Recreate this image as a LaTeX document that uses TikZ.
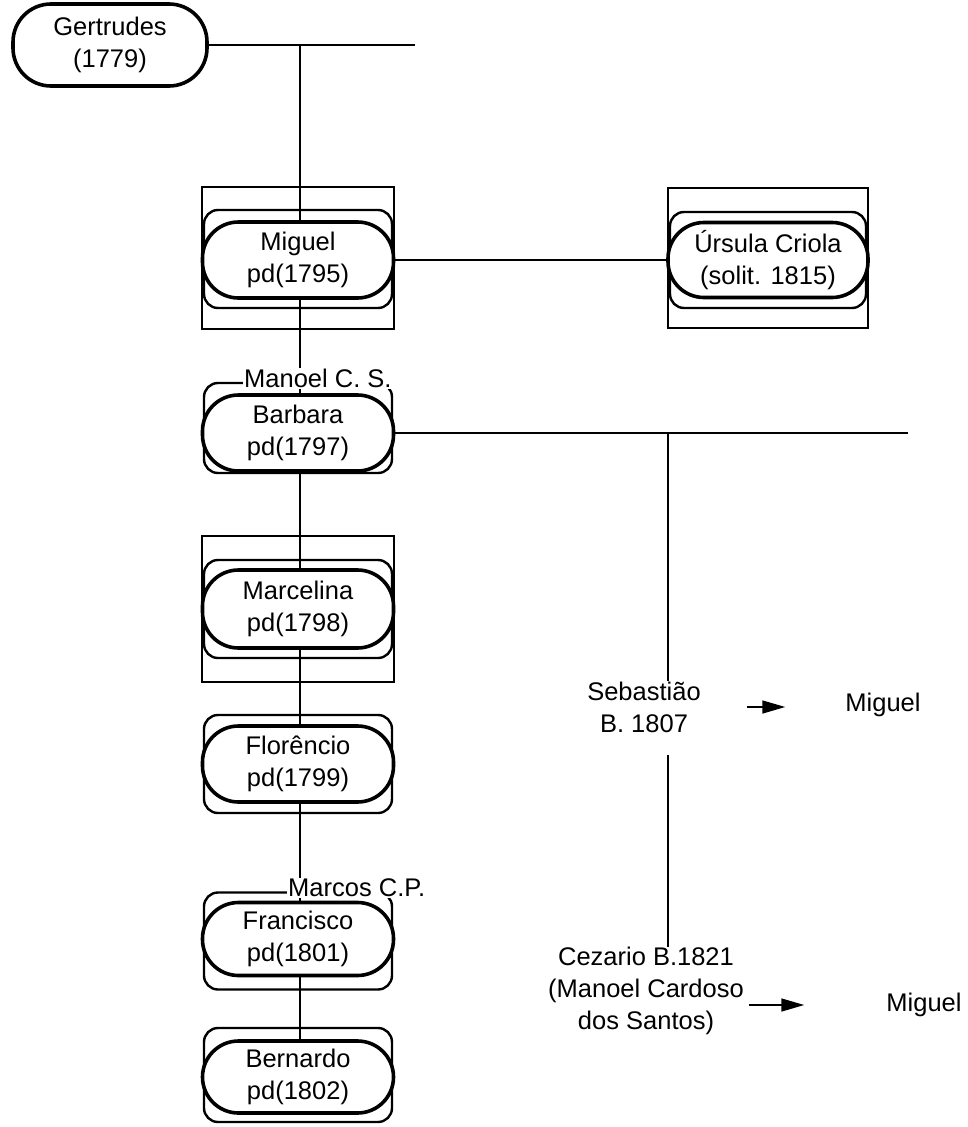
\documentclass[tikz,border=0pt]{standalone}
\usepackage{fontspec}
\setmainfont{Liberation Sans}
\usetikzlibrary{arrows.meta,positioning,backgrounds}

\tikzset{
  person/.style={draw,line width=3.6pt,fill=white,rounded corners=36pt,minimum width=191pt,minimum height=76pt,inner sep=0pt,align=center},
  shell/.style={draw,line width=2.4pt,rounded corners=14pt,minimum width=188pt,minimum height=98pt,inner sep=0pt},
  cell/.style={draw,line width=2.8pt,minimum width=192pt,minimum height=142pt,inner sep=0pt},
  tag/.style={fill=white,inner sep=1pt,anchor=south west},
  plain/.style={inner sep=0pt,align=center},
  link/.style={line width=1.3pt},
  fwd/.style={line width=1.6pt,-{Triangle[length=23pt,width=13pt]}}
}

\begin{document}
\begin{tikzpicture}[x=1pt,y=-1pt,font=\fontsize{25.5}{32}\selectfont]
  \useasboundingbox (0,0) rectangle (967,1127);

  \node[person,minimum width=194pt,minimum height=82pt,rounded corners=38pt] (gert) at (110,45) {Gertrudes\\(1779)};
  \coordinate (gend) at (415,45);
  \coordinate (gj) at (300,45);

  % left column
  \node[cell] (mig-o) at (298,258) {};
  \node[shell] (mig-r) at (298,259) {};
  \node[person] (mig) at (298,260) {Miguel\\pd(1795)};

  \node[shell,minimum height=90pt] (barb-r) at (298,428) {};
  \node[person] (barb) at (298,433) {Barbara\\pd(1797)};
  \node[tag] (barb-t) at (243,389) {Manoel C. S.};

  \node[cell,minimum height=146pt] (marc-o) at (298,609) {};
  \node[shell] (marc-r) at (298,609) {};
  \node[person,minimum height=78pt] (marc) at (298,609) {Marcelina\\pd(1798)};

  \node[shell] (flor-r) at (298,764) {};
  \node[person] (flor) at (298,764) {Florêncio\\pd(1799)};

  \node[shell,minimum height=97pt] (fran-r) at (298,941) {};
  \node[person,minimum height=73pt] (fran) at (298,939) {Francisco\\pd(1801)};
  \node[tag] (fran-t) at (287,898) {Marcos C.P.};

  \node[shell,minimum height=94pt] (bern-r) at (298,1075) {};
  \node[person,minimum height=72pt] (bern) at (298,1077) {Bernardo\\pd(1802)};

  % right column
  \node[cell,minimum width=200pt,minimum height=140pt] (urs-o) at (768,258) {};
  \node[shell,minimum width=196pt,minimum height=96pt] (urs-r) at (768,260) {};
  \node[person,minimum width=200pt,minimum height=75pt] (urs) at (768,260) {Úrsula Criola\\(solit. 1815)};

  \coordinate (bend) at (908,433);
  \coordinate (bj) at (668,433);
  \node[plain] (seb) at (644,707) {Sebastião\\B. 1807};
  \node[plain] (mig1) at (883,705) {Miguel};
  \node[plain] (cez) at (646,991) {Cezario B.1821\\(Manoel Cardoso\\dos Santos)};
  \node[plain] (mig2) at (924,1005) {Miguel};

  \begin{scope}[on background layer]
    \draw[link] (gert) -- (gend);
    \draw[link] (gj) -- (gj |- bern);
    \draw[link] (mig) -- (urs);
    \draw[link] (barb) -- (bend);
    \draw[link] (bj) -- (bj |- seb.north);
    \draw[link,shorten <=22pt] (bj |- seb.south) -- (bj |- cez.north);
  \end{scope}

  \draw[fwd,shorten <=46pt,shorten >=60pt] (seb.east) -- (seb.east -| mig1.west);
  \draw[fwd,shorten <=5pt,shorten >=82pt] (cez.east |- mig2) -- (mig2.west);
\end{tikzpicture}
\end{document}
